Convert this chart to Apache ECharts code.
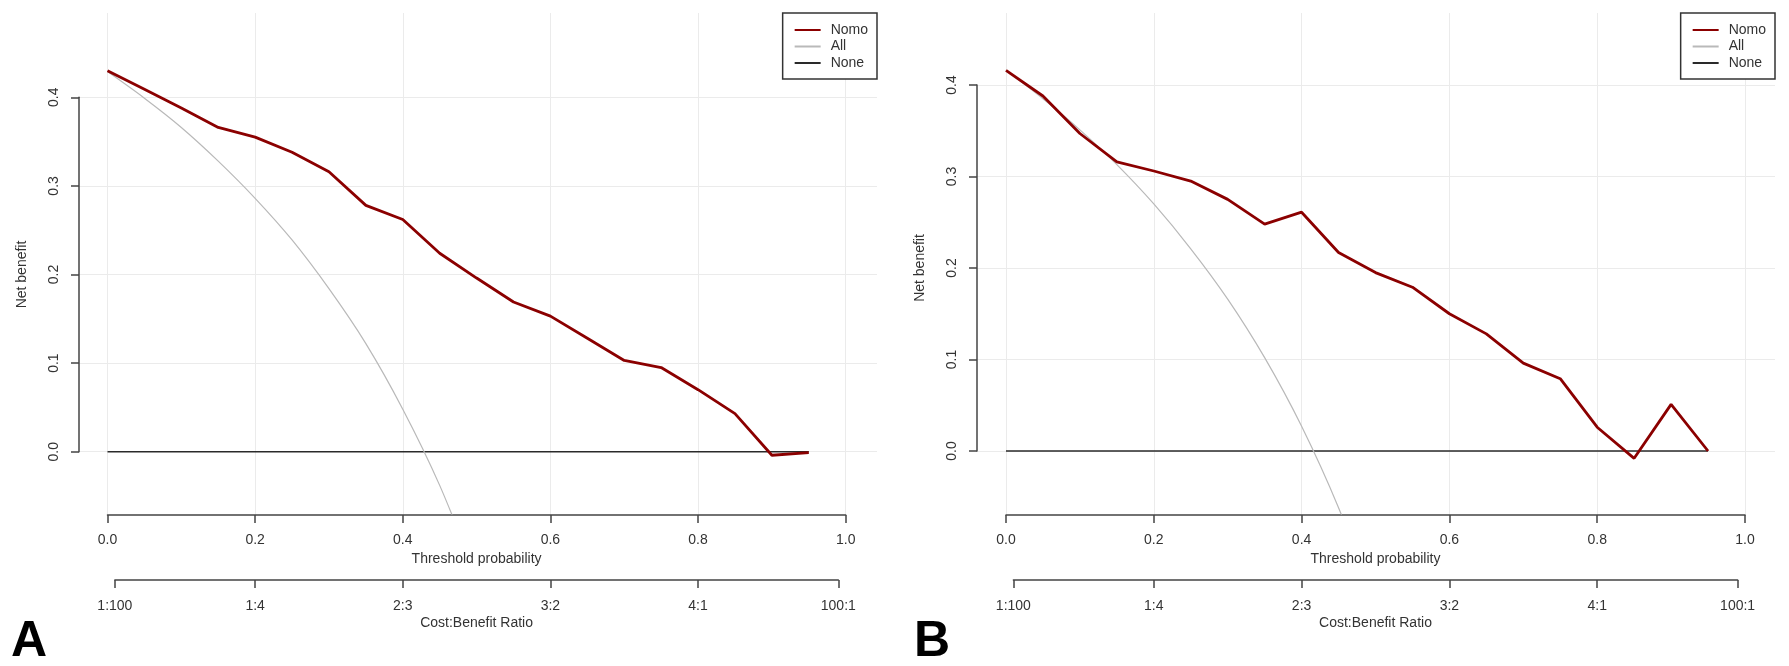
<!DOCTYPE html>
<html>
<head>
<meta charset="utf-8">
<script src="https://cdn.jsdelivr.net/npm/echarts@6/dist/echarts.min.js"></script>
<style>
html, body { margin: 0; padding: 0; background: #fff; }
#main { width: 1789px; height: 666px; }
</style>
</head>
<body>
<div id="main"></div>
<script>
// threshold probabilities used for the model curves
var thresholds = [0, 0.05, 0.1, 0.15, 0.2, 0.25, 0.3, 0.35, 0.4, 0.45, 0.5, 0.55, 0.6, 0.65, 0.7, 0.75, 0.8, 0.85, 0.9, 0.95];
var nomoA = [0.430, 0.409, 0.388, 0.366, 0.355, 0.338, 0.316, 0.278, 0.262, 0.224, 0.196, 0.169, 0.153, 0.128, 0.103, 0.095, 0.070, 0.043, -0.004, -0.001];
var nomoB = [0.416, 0.388, 0.347, 0.316, 0.306, 0.295, 0.275, 0.248, 0.261, 0.217, 0.195, 0.179, 0.150, 0.128, 0.096, 0.079, 0.026, -0.008, 0.051, 0.000];

// treat-all curves (run off the bottom of the plot)
var allThresholds = [0, 0.05, 0.1, 0.15, 0.2, 0.25, 0.3, 0.35, 0.4, 0.45, 0.5];
var allA = [0.429, 0.399, 0.366, 0.328, 0.286, 0.239, 0.184, 0.122, 0.048, -0.038, -0.142];
var allB = [0.416, 0.385, 0.351, 0.313, 0.270, 0.221, 0.166, 0.102, 0.027, -0.062, -0.168];

// treat-none
var noneThresholds = [0, 0.95];
var noneValues = [0, 0];

var seriesNames = ['Nomo', 'All', 'None'];
var cbTicks = [0.01, 0.2, 0.4, 0.6, 0.8, 0.99];
var cbLabels = ['1:100', '1:4', '2:3', '3:2', '4:1', '100:1'];

var W = 1789;
var FONT = 'Liberation Sans, Arial, sans-serif';
var AXIS_COLOR = '#444';
var GRID_COLOR = '#ebebeb';

// pixel layout of each panel (R style: plot region + axes drawn apart)
var panels = [
    { letter: 'A', nomo: nomoA, all: allA, plotLeft: 79, plotRight: 877, x0: 107.5, x1: 845.7, y0: 451.7, y4: 97.3, letterLeft: 11 },
    { letter: 'B', nomo: nomoB, all: allB, plotLeft: 977, plotRight: 1775, x0: 1006, x1: 1745, y0: 451, y4: 85, letterLeft: 914 }
];
var plotTop = 13, plotBottom = 514, cbAxisY = 580;

function zip(xs, ys) {
    var out = [];
    for (var i = 0; i < xs.length; i++) out.push([xs[i], ys[i]]);
    return out;
}

function fixed1(v) { return v.toFixed(1); }

var grids = [], xAxes = [], yAxes = [], series = [], legends = [], titles = [];

for (var p = 0; p < panels.length; p++) {
    var P = panels[p];
    var base = p * 4;
    var xScale = P.x1 - P.x0;
    var yScale = (P.y0 - P.y4) / 0.4;

    // 0: plot region holding the curves
    grids.push({ left: P.plotLeft, top: plotTop, width: P.plotRight - P.plotLeft, height: plotBottom - plotTop, outerBoundsMode: 'none' });
    xAxes.push({ gridIndex: base, type: 'value', show: false,
        min: -(P.x0 - P.plotLeft) / xScale, max: 1 + (P.plotRight - P.x1) / xScale });
    yAxes.push({ gridIndex: base, type: 'value', show: false,
        min: -(plotBottom - P.y0) / yScale, max: 0.4 + (P.y4 - plotTop) / yScale });

    // 1: threshold axis + vertical grid lines
    grids.push({ left: P.x0, top: plotTop, width: xScale, height: plotBottom + 1 - plotTop, outerBoundsMode: 'none' });
    xAxes.push({ gridIndex: base + 1, type: 'value', min: 0, max: 1, interval: 0.2,
        name: 'Threshold probability', nameLocation: 'middle', nameGap: 37,
        nameTextStyle: { color: '#333', fontSize: 14, fontFamily: FONT },
        axisLine: { show: true, lineStyle: { color: AXIS_COLOR, width: 1.5 } },
        axisTick: { show: true, length: 8, lineStyle: { color: AXIS_COLOR, width: 1.5 } },
        axisLabel: { margin: 18, color: '#333', fontSize: 14, fontFamily: FONT, formatter: fixed1, showMinLabel: true, showMaxLabel: true },
        splitLine: { show: true, lineStyle: { color: GRID_COLOR, width: 1 } } });
    yAxes.push({ gridIndex: base + 1, type: 'value', show: false, min: 0, max: 1 });

    // 2: net benefit axis + horizontal grid lines
    grids.push({ left: P.plotLeft, top: P.y4, width: P.plotRight - P.plotLeft, height: P.y0 - P.y4, outerBoundsMode: 'none' });
    xAxes.push({ gridIndex: base + 2, type: 'value', show: false, min: 0, max: 1 });
    yAxes.push({ gridIndex: base + 2, type: 'value', min: 0, max: 0.4, interval: 0.1,
        name: 'Net benefit', nameLocation: 'middle', nameRotate: 90, nameGap: 50,
        nameTextStyle: { color: '#333', fontSize: 14, fontFamily: FONT },
        axisLine: { show: true, lineStyle: { color: AXIS_COLOR, width: 1.5 } },
        axisTick: { show: true, length: 8, lineStyle: { color: AXIS_COLOR, width: 1.5 } },
        axisLabel: { rotate: 90, margin: 18, color: '#333', fontSize: 14, fontFamily: FONT, formatter: fixed1 },
        splitLine: { show: true, lineStyle: { color: GRID_COLOR, width: 1 } } });

    // 3: cost:benefit ratio axis
    var cbLeft = P.x0 + cbTicks[0] * xScale;
    var cbRight = P.x0 + cbTicks[cbTicks.length - 1] * xScale;
    grids.push({ left: cbLeft, top: cbAxisY - 1, width: cbRight - cbLeft, height: 1, outerBoundsMode: 'none' });
    xAxes.push({ gridIndex: base + 3, type: 'value', min: cbTicks[0], max: cbTicks[cbTicks.length - 1],
        name: 'Cost:Benefit Ratio', nameLocation: 'middle', nameGap: 36,
        nameTextStyle: { color: '#333', fontSize: 14, fontFamily: FONT },
        axisLine: { show: true, lineStyle: { color: AXIS_COLOR, width: 1.5 } },
        axisTick: { show: true, length: 8, customValues: cbTicks, lineStyle: { color: AXIS_COLOR, width: 1.5 } },
        axisLabel: { margin: 19, color: '#333', fontSize: 14, fontFamily: FONT, customValues: cbTicks,
            formatter: function (v) {
                var best = 0;
                for (var i = 1; i < cbTicks.length; i++) {
                    if (Math.abs(cbTicks[i] - v) < Math.abs(cbTicks[best] - v)) best = i;
                }
                return cbLabels[best];
            } },
        splitLine: { show: false } });
    yAxes.push({ gridIndex: base + 3, type: 'value', show: false, min: 0, max: 1 });

    // curves
    series.push({ name: 'None', type: 'line', xAxisIndex: base, yAxisIndex: base, data: zip(noneThresholds, noneValues),
        symbol: 'none', clip: true, lineStyle: { color: '#2a2a2a', width: 1.6 }, itemStyle: { color: '#2a2a2a' }, z: 3 });
    series.push({ name: 'All', type: 'line', xAxisIndex: base, yAxisIndex: base, data: zip(allThresholds, P.all),
        symbol: 'none', smooth: 0.3, clip: true, lineStyle: { color: '#b9b9b9', width: 1.2 }, itemStyle: { color: '#b9b9b9' }, z: 4 });
    series.push({ name: 'Nomo', type: 'line', xAxisIndex: base, yAxisIndex: base, data: zip(thresholds, P.nomo),
        symbol: 'none', clip: true, lineStyle: { color: '#8b0000', width: 2.8 }, itemStyle: { color: '#8b0000' }, z: 5 });

    // legend: plain line keys only (the dot of line-series icons is made invisible)
    legends.push({
        data: seriesNames, orient: 'vertical', right: W - P.plotRight, top: plotTop,
        backgroundColor: '#fff', borderColor: '#333', borderWidth: 1.5, borderRadius: 0,
        padding: [10, 9, 9, 11], itemGap: 2.5, itemWidth: 26, itemHeight: 14,
        itemStyle: { opacity: 0 },
        textStyle: { color: '#333', fontSize: 14, fontFamily: FONT, lineHeight: 14, padding: [0, 0, 0, 5] },
        selectedMode: false
    });

    titles.push({ text: P.letter, left: P.letterLeft, top: 617, padding: 0,
        textStyle: { fontSize: 50, fontWeight: 'bold', color: '#000', fontFamily: 'Liberation Sans, Arial, sans-serif', lineHeight: 50 } });
}

var myChart = echarts.init(document.getElementById('main'), null, { renderer: 'canvas' });
myChart.setOption({
    animation: false,
    backgroundColor: '#fff',
    title: titles,
    legend: legends,
    grid: grids,
    xAxis: xAxes,
    yAxis: yAxes,
    series: series
});
window.onresize = myChart.resize;
</script>
</body>
</html>
